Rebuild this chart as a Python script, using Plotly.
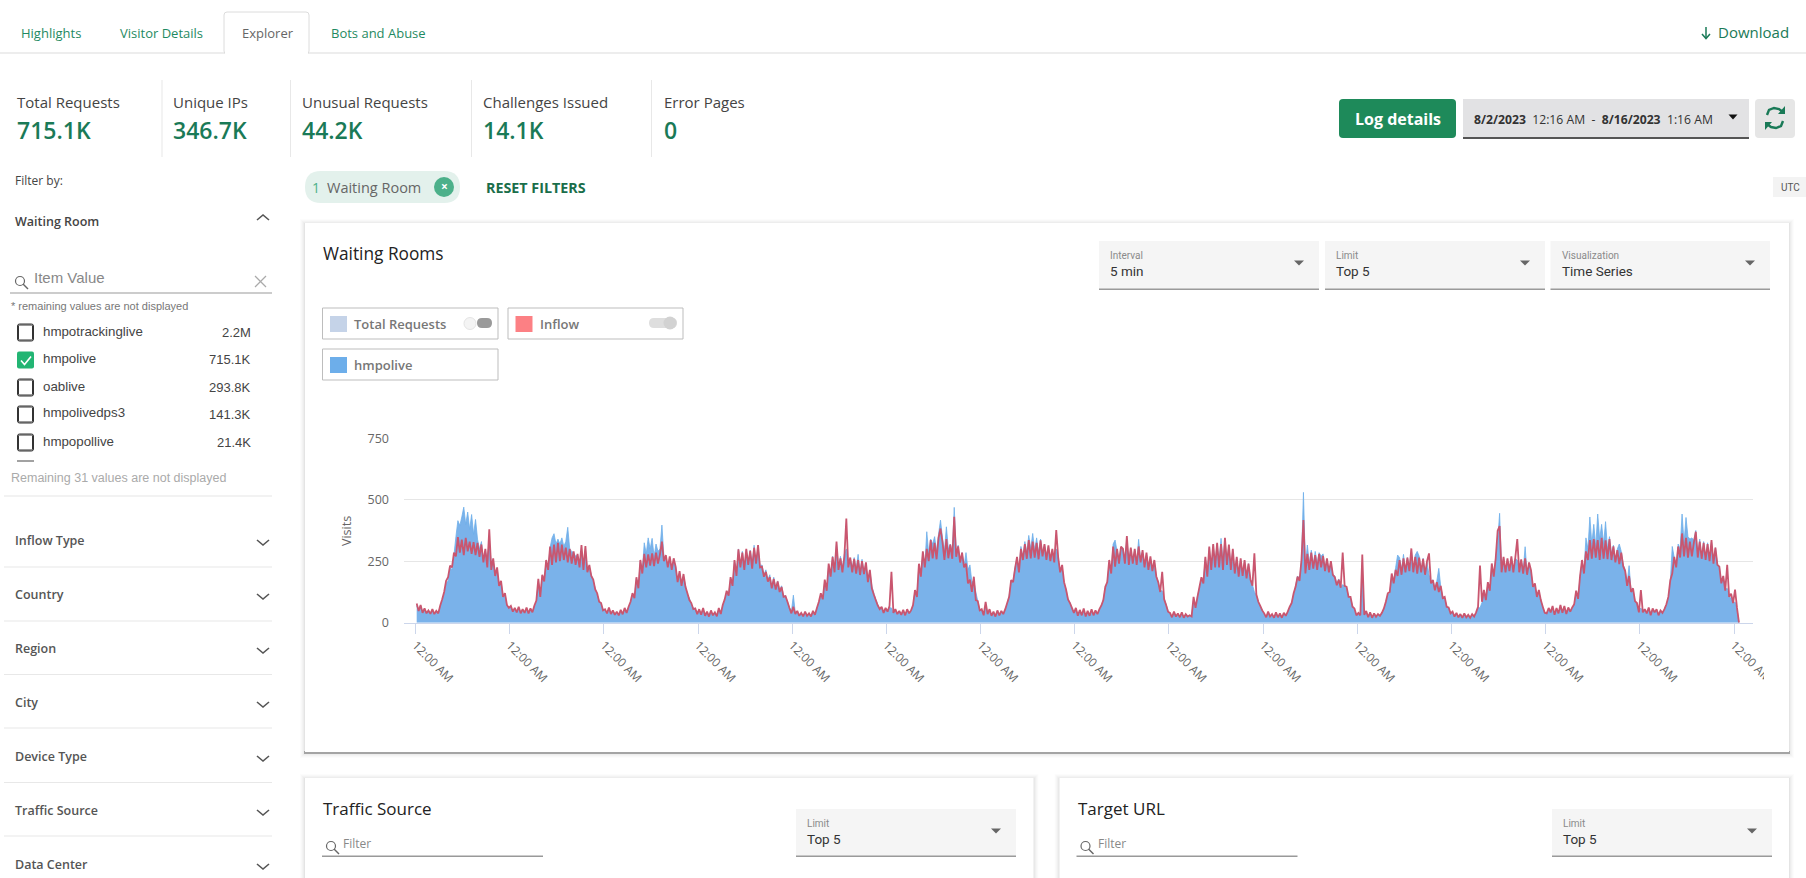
import pandas as pd
import plotly.graph_objects as go

# ----------------------------------------------
# Chart data (30 min steps from 12:16 AM)
# ----------------------------------------------
inflow_aug02 = [78,48,72,40,58,38,50,36,55,35,48,38, 70,95,125,170,185,232,225,285,270,348,285,338,
                275,345,290,330,280,328,275,325,268,318,245,300, 225,380,215,262,190,225,150,170,105,120,72,60]
inflow_aug03 = [68,45,60,42,65,38,55,40,62,38,58,42, 70,90,178,105,195,168,255,215,310,235,318,245,
                325,250,318,255,305,245,300,240,290,235,280,225, 316,215,312,205,235,190,175,135,120,85,80,50]
inflow_aug04 = [55,38,62,35,50,32,45,30,52,34,60,40, 65,85,120,100,185,140,255,200,280,225,278,232,
                282,230,285,240,278,330,250,275,225,270,215,262, 228,165,210,150,198,146,120,92,80,55,58,35]
inflow_aug05 = [55,32,60,28,45,25,50,30,42,26,60,35, 72,95,130,110,185,150,255,190,298,225,285,215,
                300,235,292,220,305,240,316,225,228,187,207,167, 185,140,178,135,168,125,145,105,108,85,60,38]
inflow_aug06 = [65,35,48,28,40,26,45,28,38,25,48,32, 60,85,120,95,175,130,240,187,268,205,330,215,
                262,205,268,424,225,265,205,260,200,255,194,250, 198,245,165,215,140,115,92,70,55,65,40,60]
inflow_aug07 = [45,68,207,40,55,35,48,32,52,30,55,38, 50,72,133,105,240,187,290,225,300,250,336,262,
                325,258,345,383,330,255,340,262,318,260,431,268, 310,245,285,225,240,160,175,125,187,92,88,50]
inflow_aug08 = [55,30,85,35,55,28,45,25,50,30,48,35, 55,80,105,173,165,220,268,205,300,255,320,260,
                336,262,330,265,325,258,335,270,320,255,315,250, 300,245,377,265,205,235,165,135,95,80,60,40]
inflow_aug09 = [60,28,52,30,58,25,48,28,55,30,50,35, 55,70,92,146,165,255,200,310,228,300,240,310,
                300,240,352,235,305,240,300,235,310,245,295,225, 285,215,270,210,255,188,165,125,207,95,72,45]
inflow_aug10 = [40,22,45,25,38,22,42,20,35,25,30,25, 105,60,105,146,185,160,268,187,310,215,320,225,
                325,225,320,215,345,235,318,215,300,200,268,187, 262,190,255,180,240,175,150,282,115,85,68,50]
inflow_aug11 = [38,22,45,25,35,20,42,22,38,20,40,28, 45,65,80,120,146,187,170,255,418,200,280,215,
                285,220,275,215,280,225,272,210,262,205,250,195, 185,152,175,142,285,150,146,105,105,65,58,30]
inflow_aug12 = [40,30,277,32,48,22,42,20,38,24,35,28, 40,58,85,120,125,200,160,215,190,255,195,262,
                205,265,210,302,205,268,200,265,205,260,195,250, 282,160,173,132,165,125,150,100,105,65,62,38]
inflow_aug13 = [45,25,40,22,35,20,38,22,32,20,35,25, 42,65,232,85,133,92,165,130,241,187,262,374,
                393,205,268,205,262,210,270,205,265,340,205,258, 200,262,195,245,214,146,160,105,133,92,65,40]
inflow_aug14 = [38,60,42,68,32,60,38,72,40,68,35,62, 45,62,75,130,97,190,255,200,290,255,336,260,
                340,265,336,255,345,260,335,258,340,255,310,245, 295,238,285,230,210,150,190,125,140,88,80,42]
inflow_aug15 = [133,42,55,38,62,30,58,42,55,30,50,40, 55,75,105,173,200,268,225,310,265,363,270,345,
                265,330,270,325,370,265,330,260,325,255,320,250, 336,240,305,235,228,160,190,130,235,105,118,80]
inflow_aug16 = [135,60,0]

hmpolive_aug02 = [70,50,68,45,55,42,48,40,52,38,46,40, 65,90,120,160,170,225,215,275,350,415,395,430,
                  470,400,450,380,440,360,420,340,300,330,250,290, 260,330,245,255,200,220,155,165,110,115,70,62]
hmpolive_aug03 = [62,48,58,45,60,42,52,42,58,40,55,45, 68,85,170,110,190,170,250,220,305,345,362,320,
                  340,320,345,310,330,388,300,290,285,270,275,240, 290,230,300,210,225,195,170,140,115,90,75,55]
hmpolive_aug04 = [50,40,55,38,48,35,42,33,48,36,55,42, 62,80,115,105,180,145,250,210,325,280,345,300,
                  343,270,320,290,300,397,270,260,235,255,225,250, 225,170,205,160,190,150,115,100,75,60,55,40]
hmpolive_aug05 = [50,35,55,30,42,28,45,32,40,28,55,38, 70,90,125,115,180,155,250,200,300,230,290,225,
                  295,245,295,240,315,235,310,230,235,195,215,175, 195,145,185,140,170,130,150,108,110,85,62,45]
hmpolive_aug06 = [112,38,45,30,38,28,42,30,36,28,45,35, 58,80,115,100,170,135,235,190,270,210,320,225,
                  270,225,280,300,240,262,225,265,215,278,205,258, 205,240,170,210,150,120,95,75,58,62,42,58]
hmpolive_aug07 = [42,62,60,38,50,36,45,34,48,32,50,40, 48,70,128,110,235,195,285,230,370,280,340,320,
                  350,290,360,417,345,290,390,300,320,285,469,290, 315,250,285,230,285,215,235,165,170,125,88,55]
hmpolive_aug08 = [50,35,75,38,50,30,42,28,48,32,45,38, 52,78,110,165,170,225,260,215,310,265,330,285,
                  355,300,363,295,345,285,340,280,318,270,310,255, 295,250,300,260,210,225,160,135,95,82,58,42]
hmpolive_aug09 = [55,32,48,32,52,28,45,30,50,32,45,38, 52,68,95,140,165,245,210,320,336,290,265,300,
                  305,250,340,255,300,250,295,245,339,250,290,230, 280,220,265,215,250,190,165,130,130,100,75,48]
hmpolive_aug10 = [35,24,40,26,35,24,38,22,32,25,28,26, 95,65,110,140,180,165,262,195,305,220,315,245,
                  320,250,343,250,340,245,315,225,295,205,265,195, 258,195,250,185,240,178,155,125,112,85,65,52]
hmpolive_aug11 = [32,24,40,26,32,22,38,24,35,22,36,30, 42,62,82,115,150,190,175,250,530,230,316,240,
                  295,235,290,240,285,270,280,225,258,210,245,195, 190,155,178,145,155,148,140,108,100,68,55,32]
hmpolive_aug12 = [35,28,220,30,42,24,38,22,35,25,32,30, 38,55,82,115,120,195,170,225,275,265,215,278,
                  210,265,215,295,210,275,290,270,210,262,200,245, 195,165,175,138,170,221,145,105,102,68,60,38]
hmpolive_aug13 = [40,26,36,24,32,22,35,24,30,22,32,26, 40,62,60,82,125,95,160,135,235,195,258,330,
                  445,215,265,210,258,212,265,205,262,255,205,255, 210,309,200,240,205,150,150,108,125,92,62,42]
hmpolive_aug14 = [36,55,40,62,34,58,36,65,38,60,36,58, 42,60,72,125,100,185,250,210,345,300,430,320,
                  400,310,442,340,400,320,411,300,350,280,315,250, 300,320,290,235,215,160,232,130,135,90,75,45]
hmpolive_aug15 = [60,40,52,40,58,32,55,42,52,32,48,42, 52,72,102,165,310,265,225,320,300,442,325,428,
                  350,340,345,335,375,275,340,265,330,265,325,255, 330,245,305,238,230,165,190,135,140,105,100,78]
hmpolive_aug16 = [85,55,0]

inflow = (inflow_aug02 + inflow_aug03 + inflow_aug04 + inflow_aug05 + inflow_aug06 + inflow_aug07 + inflow_aug08
          + inflow_aug09 + inflow_aug10 + inflow_aug11 + inflow_aug12 + inflow_aug13 + inflow_aug14 + inflow_aug15
          + inflow_aug16)
hmpolive = (hmpolive_aug02 + hmpolive_aug03 + hmpolive_aug04 + hmpolive_aug05 + hmpolive_aug06 + hmpolive_aug07
            + hmpolive_aug08 + hmpolive_aug09 + hmpolive_aug10 + hmpolive_aug11 + hmpolive_aug12 + hmpolive_aug13
            + hmpolive_aug14 + hmpolive_aug15 + hmpolive_aug16)
times = pd.date_range("2023-08-02 00:16", periods=len(inflow), freq="30min")

y_ticks = [0, 250, 500, 750]

# Page text
tab_names = ["Highlights", "Visitor Details", "Explorer", "Bots and Abuse"]
kpi_labels = ["Total Requests", "Unique IPs", "Unusual Requests", "Challenges Issued", "Error Pages"]
kpi_values = ["715.1K", "346.7K", "44.2K", "14.1K", "0"]
room_names = ["hmpotrackinglive", "hmpolive", "oablive", "hmpolivedps3", "hmpopollive"]
room_counts = ["2.2M", "715.1K", "293.8K", "141.3K", "21.4K"]
filter_names = ["Inflow Type", "Country", "Region", "City", "Device Type", "Traffic Source", "Data Center"]

W, H = 1806, 878
GREEN = "#1a7a57"
shapes = []
notes = []


# everything on the page is placed in screen pixels
def px(x):
    return x / W


def py(y):
    return 1 - y / H


def text(x, y, s, size=13, color="#444", font="Open Sans", anchor="left", weight=None, angle=0):
    notes.append(dict(x=px(x), y=py(y), xref="paper", yref="paper", text=s, showarrow=False,
                      xanchor=anchor, yanchor="middle", borderpad=0, textangle=angle,
                      font=dict(family=font, size=size, color=color, weight=weight)))


def rect(x0, y0, x1, y1, fill="white", line=None, lw=1, layer="below"):
    shapes.append(dict(type="rect", xref="paper", yref="paper", x0=px(x0), y0=py(y0), x1=px(x1), y1=py(y1),
                       fillcolor=fill, line=dict(color=line or "rgba(0,0,0,0)", width=lw if line else 0), layer=layer))


def circle(cx, cy, r, fill, line=None, lw=1):
    shapes.append(dict(type="circle", xref="paper", yref="paper", x0=px(cx - r), y0=py(cy - r), x1=px(cx + r),
                       y1=py(cy + r), fillcolor=fill, line=dict(color=line or "rgba(0,0,0,0)", width=lw if line else 0),
                       layer="below"))


def poly(points, color="#666", lw=1.5, fill=None):
    d = "M" + " L".join(f"{px(x):.5f},{py(y):.5f}" for x, y in points)
    if fill:
        d += " Z"
    shapes.append(dict(type="path", path=d, xref="paper", yref="paper", fillcolor=fill or "rgba(0,0,0,0)",
                       line=dict(color=color, width=lw if not fill else 0), layer="below"))


def rounded(x0, y0, x1, y1, r, fill, line=None):
    a, b, c, d = px(x0), px(x1), py(y0), py(y1)
    rx, ry = r / W, r / H
    path = (f"M{a + rx},{c} L{b - rx},{c} Q{b},{c} {b},{c - ry} L{b},{d + ry} Q{b},{d} {b - rx},{d} "
            f"L{a + rx},{d} Q{a},{d} {a},{d + ry} L{a},{c - ry} Q{a},{c} {a + rx},{c} Z")
    shapes.append(dict(type="path", path=path, xref="paper", yref="paper", fillcolor=fill,
                       line=dict(color=line or "rgba(0,0,0,0)", width=1 if line else 0), layer="below"))


def triangle(cx, cy, color="#666", w=5, h=5):
    poly([(cx - w, cy - h / 2), (cx + w, cy - h / 2), (cx, cy + h / 2)], fill=color)


def chevron(cx, cy, up=False):
    d = -4 if up else 4
    poly([(cx - 6, cy - d / 2), (cx, cy + d / 2 + 1 * (d / 4)), (cx + 6, cy - d / 2)], color="#555", lw=1.6)


def card(x0, y0, x1, y1, strong=False):
    for grow, alpha in [(5, 0.012), (4, 0.016), (3, 0.02), (2, 0.025), (1, 0.035)]:
        rect(x0 - grow, y0 - grow + 1, x1 + grow, y1 + grow + 1, fill=f"rgba(0,0,0,{alpha})")
    if strong:
        rect(x0 - 1, y1 - 1, x1 + 1, y1 + 2, fill="rgba(0,0,0,0.28)")
    rect(x0, y0, x1, y1)


def select(x0, x1, y0, y1, label, value):
    rect(x0, y0, x1, y1, fill="#f5f5f5")
    rect(x0, y1 - 1.5, x1, y1, fill="#9a9a9a")
    text(x0 + 10, y0 + 14, label, size=10, color="#8a8a8a", font="Roboto")
    text(x0 + 10, y0 + 30, value, size=13.5, color="#333", font="Roboto")
    triangle(x1 - 20, y0 + 22)


def search_icon(cx, cy):
    circle(cx, cy, 4.5, "white", line="#666", lw=1.2)
    poly([(cx + 3, cy + 3), (cx + 8, cy + 8)], color="#666", lw=1.4)


# ------ tabs ------
rect(0, 52.5, W, 53.5, fill="#dcdcdc")
rounded(224, 12, 309, 54, 3, "white", line="#dcdcdc")
rect(225, 50, 308, 55)
for x, name in zip([20, 118.5, 240.5, 329.5], tab_names):
    text(x, 33, name, size=13, color="#666" if name == "Explorer" else "#1f8a62")
poly([(1706, 27), (1706, 38)], color=GREEN, lw=1.5)
poly([(1702, 34), (1706, 38.5), (1710, 34)], color=GREEN, lw=1.5)
text(1717, 32, "Download", size=15, color=GREEN)

# ------ KPI strip ------
for x in [161.5, 290, 471, 651]:
    rect(x, 80, x + 1, 157, fill="#e8e8e8")
for x, label, value in zip([15.5, 172, 300.5, 481.5, 662.5], kpi_labels, kpi_values):
    text(x, 102.5, label, size=15, color="#444")
    text(x, 130.5, value, size=23, color=GREEN, weight=600)

# ------ top right controls ------
rounded(1339, 99, 1456, 138, 4, "#1e8a5a")
text(1397.5, 119, "Log details", size=16, color="white", anchor="center", weight=700)
rect(1463, 99, 1749, 137, fill="#e2e2e4")
rect(1463, 137, 1749, 139, fill="#555")
text(1473, 119, "<b>8/2/2023</b>  12:16 AM  -  <b>8/16/2023</b>  1:16 AM", size=12.2, color="#333")
triangle(1733, 117, color="#111", w=4.5, h=5)
rounded(1755, 99, 1795, 138, 4, "#e6e6e6")
poly([(1767, 115), (1769, 110), (1774, 108), (1779, 109), (1783, 112)], color=GREEN, lw=2.4)
poly([(1785, 106), (1785, 114), (1778, 114)], fill=GREEN)
poly([(1783, 121), (1781, 126), (1776, 128), (1771, 127), (1767, 124)], color=GREEN, lw=2.4)
poly([(1765, 130), (1765, 122), (1772, 122)], fill=GREEN)
rect(1773, 177, W, 197, fill="#f3f3f3")
text(1780, 187, "UTC", size=10, color="#555", font="Roboto")

# ------ filter chip row ------
text(14, 180.5, "Filter by:", size=12, color="#444")
rounded(305, 171, 460, 203, 16, "#e3f1ec")
text(311, 187, "1", size=14, color="#4cb08a")
text(326, 187, "Waiting Room", size=14.5, color="#666")
circle(444, 187, 10, "#4cb08a")
text(444, 186.5, "<b>×</b>", size=12, color="white", anchor="center")
text(485, 187, "RESET FILTERS", size=14.3, color="#1a6e4a", weight=700)

# ------ left filter column ------
text(14, 221, "Waiting Room", size=12.5, color="#444", weight=600)
chevron(263, 218, up=True)
search_icon(20, 281)
text(33, 277.5, "Item Value", size=15, color="#888", font="Liberation Sans")
poly([(255, 276), (266, 287)], color="#aaa", lw=1.2)
poly([(266, 276), (255, 287)], color="#aaa", lw=1.2)
rect(10, 292.5, 272, 293.5, fill="#999")
text(10, 306, "* remaining values are not displayed", size=11, color="#777", font="Liberation Sans")
for y, name, count in zip([331, 358.5, 386, 413, 441], room_names, room_counts):
    if name == "hmpolive":
        rounded(17, y - 7, 34, y + 10, 2, "#22b573")
        poly([(21, y + 2), (24.5, y + 6), (31, y - 2)], color="white", lw=1.6)
    else:
        rounded(17.5, y - 7, 33.5, y + 10, 2, "white", line="#333")
        rounded(18.5, y - 6, 32.5, y + 9, 1, "white", line="#333")
    text(41.5, y, name, size=13.3, color="#444", font="Liberation Sans")
    text(252.5, y + 1, count, size=13, color="#444", font="Liberation Sans", anchor="right")
rect(17, 460.5, 34, 461.5, fill="#444")
rect(0, 462, 290, 466)
text(9.5, 478, "Remaining 31 values are not displayed", size=12.5, color="#aaa", font="Liberation Sans")
rect(4, 495.5, 272, 496.5, fill="#e6e6e6")
for y, name in zip([540, 594, 648, 702, 756, 810, 864], filter_names):
    text(14, y, name, size=12.5, color="#555", weight=600)
    chevron(263, y + 2)
for y in [567, 621, 674.5, 728, 782.5, 836]:
    rect(4, y - 0.5, 272, y + 0.5, fill="#e8e8e8")

# ------ main card ------
card(305, 223, 1789, 752, strong=True)
text(321.5, 253, "Waiting Rooms", size=17.3, color="#222", weight=500)
select(1099, 1319, 241, 290, "Interval", "5 min")
select(1325, 1545, 241, 290, "Limit", "Top 5")
select(1550.5, 1770, 241, 290, "Visualization", "Time Series")

for box, swatch, label in [((322.5, 308, 498, 339), "#c5d3e8", "Total Requests"),
                           ((508, 308, 683, 339), "#fc8084", "Inflow"),
                           ((322.5, 349, 498, 380), "#6daeea", "hmpolive")]:
    rect(box[0], box[1], box[2], box[3], line="#bdbdbd")
    rect(box[0] + 7.5, box[1] + 8, box[0] + 24.5, box[1] + 24, fill=swatch)
    text(box[0] + 30.5, box[1] + 16, label, size=13, color="#777", weight=600)
rounded(477, 318, 492, 328, 5, "#9a9a9a")
circle(470, 323.5, 6, "#f4f4f4", line="#e4e4e4")
rounded(649, 318, 677, 328, 5, "#dedede")
circle(670, 323, 6.5, "#d2d2d2")

# ------ lower cards, cut off by the window ------
for x0, x1, title, box_x0, box_x1 in [(305, 1033.5, "Traffic Source", 796, 1016), (1059.5, 1789, "Target URL", 1552, 1772)]:
    card(x0, 778, x1, 900)
    text(x0 + 17, 808, title, size=17, color="#222", weight=500)
    search_icon(x0 + 26, 846)
    text(x0 + 37, 843, "Filter", size=12, color="#888")
    rect(x0 + 17, 855.5, x0 + 238, 857, fill="#999")
    select(box_x0, box_x1, 809, 857, "Limit", "Top 5")

# ------ the chart itself ------
fig = go.Figure()
fig.add_trace(go.Scatter(x=times, y=hmpolive, mode="lines", name="hmpolive", fill="tozeroy",
                         line=dict(color="#6daeea", width=0.8, simplify=False), fillcolor="#7ab2ea"))
fig.add_trace(go.Scatter(x=times, y=inflow, mode="lines", name="Inflow",
                         line=dict(color="#c9566f", width=1.8, simplify=False)))

# y title, and the last x label is cut at the edge of the chart
text(346, 531, "Visits", size=12.5, color="#666", anchor="center", angle=-90)
rect(1764, 660, 1786, 700, layer="above")

fig.update_layout(
    width=W, height=H, margin=dict(l=0, r=0, t=0, b=0), showlegend=False,
    paper_bgcolor="white", plot_bgcolor="rgba(0,0,0,0)",
    shapes=shapes, annotations=notes,
    xaxis=dict(domain=[px(404), px(1752.7)], range=["2023-08-01 21:02", "2023-08-16 04:46"], type="date",
               tick0="2023-08-02 00:00", dtick=86400000, tickformat="%-I:%M %p", tickangle=45, automargin=False,
               ticks="outside", ticklen=10, tickcolor="#ccd6eb", showgrid=False, showline=True, linecolor="#ccd6eb",
               tickfont=dict(family="Open Sans", size=12, color="#666"), zeroline=False),
    yaxis=dict(domain=[py(622.7), py(438.3)], range=[0, 750], tickvals=y_ticks, showgrid=True, gridcolor="#e6e6e6",
               zeroline=False, showline=False, ticks="", ticklabelstandoff=14, automargin=False,
               tickfont=dict(family="Open Sans", size=12.5, color="#666")),
)

fig.write_html("out.html", config=dict(displayModeBar=False),
               post_script="document.body.style.margin='0';document.body.style.overflow='hidden';")
